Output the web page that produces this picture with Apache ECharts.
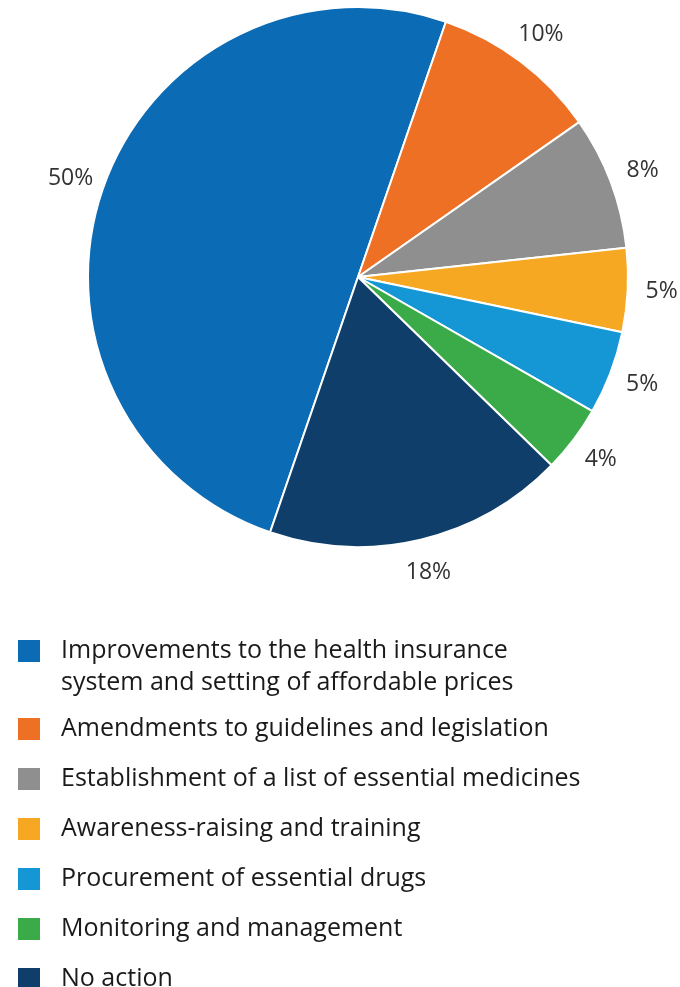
<!DOCTYPE html>
<html>
<head>
<meta charset="utf-8">
<script src="https://cdn.jsdelivr.net/npm/echarts@6/dist/echarts.min.js"></script>
<style>
  html, body { margin: 0; padding: 0; background: #fff; }
  #chart { width: 680px; height: 987px; }
</style>
</head>
<body>
<div id="chart"></div>
<script>
// categories, clockwise from the bottom of the big blue slice
var categories = [
  'Improvements to the health insurance\nsystem and setting of affordable prices',
  'Amendments to guidelines and legislation',
  'Establishment of a list of essential medicines',
  'Awareness-raising and training',
  'Procurement of essential drugs',
  'Monitoring and management',
  'No action'
]
var shares = [50, 10, 8, 5, 5, 4, 18]
var colors = ['#0b6cb5', '#ee7024', '#8f8f8f', '#f6a823', '#1697d5', '#3bab4a', '#0e3e69']

var FONT = '"Open Sans", Lato, sans-serif'

var chart = echarts.init(document.getElementById('chart'))

chart.setOption({
  animation: false,
  color: colors,
  legend: [
    {
      // first item has two lines: a blank line on top keeps the square next to line one
      orient: 'vertical',
      left: 16,
      top: 603,
      padding: 0,
      itemWidth: 24,
      itemHeight: 24,
      icon: 'rect',
      selectedMode: false,
      data: [categories[0]],
      formatter: function (name) {
        return '\n' + name
      },
      textStyle: {
        fontFamily: FONT,
        fontSize: 25,
        lineHeight: 32,
        color: '#1a1a1a',
        padding: [0, 0, 0, 15]
      }
    },
    {
      orient: 'vertical',
      left: 16,
      top: 713,
      height: 340,
      padding: 0,
      itemWidth: 24,
      itemHeight: 24,
      itemGap: 18,
      icon: 'rect',
      selectedMode: false,
      data: categories.slice(1),
      textStyle: {
        fontFamily: FONT,
        fontSize: 25,
        lineHeight: 32,
        color: '#1a1a1a',
        padding: [0, 0, 0, 15]
      }
    }
  ],
  series: [
    {
      type: 'pie',
      center: [358, 277],
      radius: 270,
      startAngle: 251,
      clockwise: true,
      avoidLabelOverlap: false,
      itemStyle: {
        borderColor: '#fff',
        borderWidth: 2
      },
      label: {
        show: true,
        position: 'outside',
        formatter: '{c}%',
        fontFamily: FONT,
        fontSize: 23,
        color: '#333',
        distanceToLabelLine: 0
      },
      labelLine: {
        show: false,
        length: 34,
        length2: 0
      },
      // center each label on the end of its (hidden) label line
      labelLayout: function (p) {
        return { dx: p.align === 'left' ? -p.labelRect.width / 2 : p.labelRect.width / 2 }
      },
      emphasis: { disabled: true },
      data: categories.map(function (name, i) {
        return { name: name, value: shares[i] }
      })
    }
  ]
})
</script>
</body>
</html>
